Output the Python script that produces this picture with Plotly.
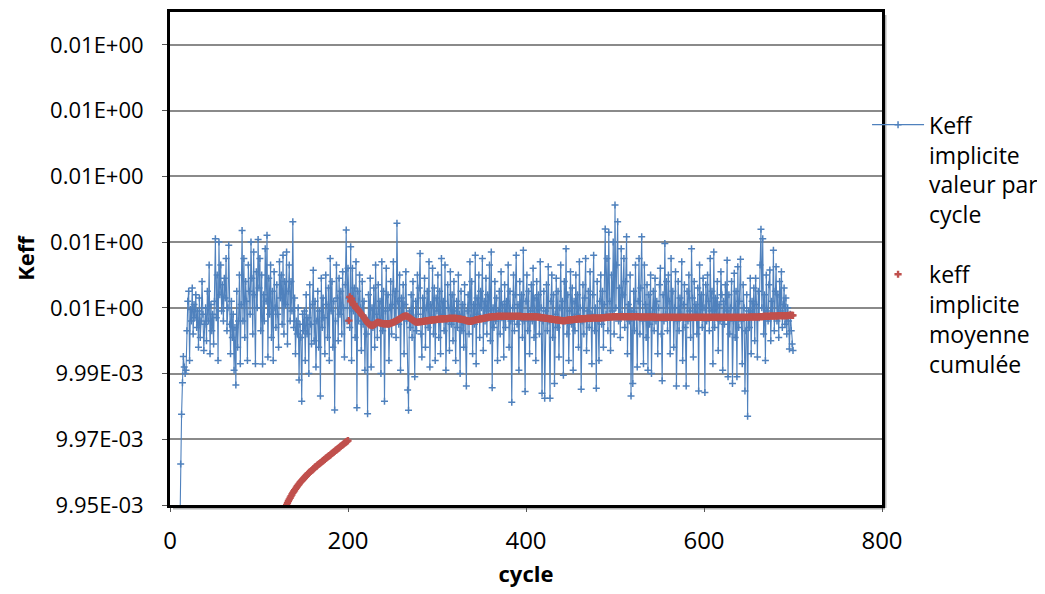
import plotly.graph_objects as go

# ---- data (keff expressed as deviation from 0.01, in units of 1e-7) ----
blue_first_cycle = 11
keff_cycle_dev = [
    -600, -375, -224, -128, -48, -80, -100, -90, 30, 120,
    150, -60, 95, 60, 160, 20, 110, 70, 140, 40,
    90, -20, 130, 10, 60, 180, 80, -30, 50, 100,
    0, 150, 60, 230, -40, 110, 30, 80, -10, 120,
    310, 70, 200, -60, 300, 140, 230, 90, 170, 60,
    190, 130, 250, 30, 100, 290, 50, -40, 120, 10,
    80, -90, 40, -135, 150, -20, 60, 200, -70, 110,
    335, 60, 250, 10, 180, 120, -60, 230, 150, 80,
    300, 190, 20, 270, 140, -70, 210, 100, 308, 160,
    250, 30, 200, -71, 140, 60, 280, 120, 321, -50,
    190, 80, 230, 10, 150, -60, 210, 100, 40, 170,
    80, -20, 240, 130, 200, 50, 260, 20, 180, 110,
    270, -10, 150, 230, 60, 180, 90, 362, 40, 130,
    -40, 60, 20, 100, -120, 50, 10, -184, 80, 30,
    90, -60, 140, 20, 70, -100, 170, 50, -10, 110,
    214, 0, 120, -80, 60, 150, -20, 90, -168, 190,
    40, 130, 70, -40, 200, 110, 10, 160, -60, 250,
    90, 180, -20, 120, -211, 60, 230, 130, 0, 190,
    80, 150, 20, 210, 100, -50, 170, 337, 60, 220,
    130, 40, 286, -60, 220, 90, 160, 10, 240, -204,
    150, 60, 200, 100, -30, 180, 50, 120, -90, 70,
    20, -222, 140, 60, 190, -80, 100, 40, 160, -20,
    230, 80, 10, 170, 60, 120, -100, 240, 30, 150,
    -184, 90, 220, 50, 140, -60, 100, 180, 20, 110,
    240, 60, 150, 10, 357, 120, 50, 200, -90, 130,
    80, 170, -40, 110, 210, 60, -150, -212, 90, 40,
    140, 10, 180, 70, -110, 120, 30, 200, 80, 160,
    265, 20, -50, 130, 60, 190, -20, 100, 150, 40,
    240, -80, 110, 70, 220, 20, 160, -60, 130, 90,
    200, 10, 150, -40, 250, 80, 120, 30, 230, -90,
    60, 170, 100, -30, 210, 50, 140, 0, 180, 90,
    -60, 120, 40, 200, 80, -100, 150, 30, 110, -20,
    170, 60, -138, 90, 140, 20, 240, 70, 180, -40,
    110, 50, 260, -70, 130, 80, 200, 10, 150, 100,
    250, -30, 120, 60, 190, 20, 140, 90, 230, 0,
    270, -143, 100, 40, 180, 60, 130, -60, 90, 150,
    20, 210, 70, 110, -50, 170, 40, 120, 80, 230,
    -20, 150, 60, -187, 100, 200, 30, 140, 260, 50,
    110, -90, 180, 70, 140, 10, 275, 60, -155, 120,
    200, 30, 150, -40, 90, 170, 60, 220, 10, 130,
    -60, 180, 80, 140, 20, 240, 100, -160, 60, 150,
    -175, 90, 170, 30, 225, 60, -175, 120, 200, 10,
    140, -130, 80, 190, 40, 150, -50, 100, 230, 70,
    120, -105, 180, 60, 280, 20, 140, -60, 90, 210,
    50, 160, -90, 120, 30, 200, 80, 140, -20, 240,
    100, -148, 60, 170, 20, 130, 250, -30, 90, 150,
    40, 210, 80, -70, 140, 260, 30, 100, -145, 180,
    60, -60, 120, 200, 50, 150, -20, 110, 340, 80,
    250, 30, 330, 120, -30, 200, 90, 300, 20, 413,
    100, 230, 362, 60, 160, 10, 280, 80, 140, 250,
    40, 180, 316, -40, 110, 60, 200, -168, 90, -130,
    150, 30, 230, 80, -80, 120, 250, 20, 160, 316,
    60, -70, 230, 110, 10, 170, -90, 140, 50, 200,
    -100, 80, 150, 30, 190, 60, 120, -40, 100, 170,
    220, 20, -122, 140, 60, 296, 80, 180, 30, 200,
    120, -40, 250, 70, 150, -20, 100, 210, -138, 60,
    180, 30, 130, 80, 240, -60, 110, 170, 40, -138,
    150, 60, 200, 90, 10, 280, 130, -50, 180, 70,
    110, 20, 160, -153, 230, 80, 140, 40, 190, 100,
    -158, 170, 60, 200, 120, 30, 250, 90, 150, -70,
    270, 40, 130, 80, 180, -30, 110, 60, 210, 140,
    -90, 120, 50, 170, 90, 245, -110, 140, 20, 100,
    180, -130, 60, 205, 10, 150, -110, 225, 40, 120,
    248, 60, -70, 170, 100, -153, 30, 140, -230, 90,
    40, 190, -40, 120, 80, 160, 0, 190, 110, -50,
    150, 70, 230, 339, 100, 310, 20, 140, -60, 200,
    90, 60, 170, 215, 0, 120, 80, 275, 30, 150,
    225, 60, 140, 10, 180, 90, 210, 40, 110, 160,
    50, 130, 20, 100, 60, -25, 80, 30, -10, -30,
]

red_first_cycle_a = 126
keff_mean_dev_a = [
    -528, -522, -517, -511, -506,
    -500, -494, -488, -483, -478, -473, -468, -463, -459, -455,
    -451, -447, -443, -439, -436, -432, -429, -426, -423, -420,
    -417, -414, -411, -408, -405, -403, -400, -398, -395, -393,
    -390, -388, -385, -383, -381, -378, -376, -374, -372, -370,
    -367, -365, -363, -361, -358, -356, -354, -352, -350, -348,
    -345, -343, -341, -339, -337, -334, -332, -330, -328, -326,
    -323, -321, -319, -317, -315, -312, -310, -308, -306, -304,
]

red_first_cycle_b = 201
keff_mean_dev_b = [
    61, 133, 120, 128, 117, 108, 112, 104, 100, 97,
    95, 92, 88, 84, 80, 77, 74, 70, 66, 62,
    58, 54, 51, 49, 48, 47, 46, 47, 48, 50,
    52, 54, 56, 56, 55, 54, 53, 53, 52, 52,
    51, 51, 52, 52, 51, 51, 52, 53, 54, 55,
    56, 57, 58, 60, 62, 63, 65, 66, 68, 70,
    72, 73, 74, 75, 75, 75, 74, 72, 70, 68,
    66, 64, 62, 60, 58, 57, 56, 56, 57, 57,
    58, 58, 58, 59, 59, 59, 60, 60, 61, 61,
    62, 62, 62, 63, 63, 63, 64, 64, 64, 65,
    65, 65, 65, 66, 66, 66, 66, 67, 67, 67,
    67, 67, 68, 68, 68, 68, 68, 68, 68, 68,
    68, 68, 67, 67, 66, 66, 65, 65, 64, 64,
    63, 62, 61, 60, 60, 59, 59, 59, 60, 60,
    61, 62, 63, 64, 64, 65, 65, 66, 66, 67,
    67, 68, 68, 69, 70, 70, 71, 71, 72, 72,
    72, 73, 73, 73, 73, 73, 74, 74, 74, 74,
    74, 74, 74, 74, 74, 74, 74, 74, 74, 74,
    74, 74, 74, 74, 74, 74, 74, 74, 74, 74,
    74, 74, 74, 74, 73, 73, 73, 73, 73, 73,
    73, 73, 73, 73, 73, 73, 73, 73, 73, 73,
    73, 72, 72, 72, 71, 71, 70, 70, 70, 69,
    69, 68, 68, 68, 67, 67, 66, 66, 65, 65,
    65, 64, 64, 63, 63, 63, 62, 62, 62, 61,
    61, 61, 61, 61, 62, 62, 62, 63, 63, 63,
    64, 64, 64, 65, 65, 65, 65, 66, 66, 66,
    66, 66, 67, 67, 67, 67, 67, 68, 68, 68,
    68, 68, 68, 69, 69, 69, 69, 69, 69, 69,
    69, 69, 69, 69, 70, 70, 70, 70, 70, 71,
    71, 71, 71, 72, 72, 72, 72, 73, 73, 73,
    73, 73, 73, 73, 73, 73, 73, 73, 73, 73,
    73, 73, 73, 73, 73, 73, 73, 73, 73, 73,
    73, 73, 73, 73, 73, 73, 72, 72, 72, 72,
    72, 72, 72, 72, 72, 72, 72, 72, 72, 72,
    72, 72, 72, 72, 72, 71, 71, 71, 71, 71,
    71, 71, 71, 71, 71, 71, 71, 71, 71, 71,
    71, 71, 71, 71, 71, 71, 71, 71, 71, 71,
    71, 71, 71, 71, 71, 71, 71, 71, 71, 71,
    71, 71, 71, 71, 71, 71, 71, 71, 71, 71,
    71, 71, 71, 71, 71, 71, 71, 71, 71, 71,
    71, 71, 71, 71, 71, 71, 71, 71, 71, 71,
    71, 71, 71, 71, 71, 71, 71, 71, 71, 71,
    71, 71, 71, 71, 71, 71, 71, 71, 71, 71,
    71, 71, 71, 71, 71, 71, 71, 71, 71, 71,
    71, 71, 71, 71, 71, 71, 71, 71, 71, 71,
    72, 72, 72, 72, 72, 72, 72, 72, 72, 72,
    72, 73, 73, 73, 73, 73, 74, 74, 74, 74,
    74, 74, 74, 75, 75, 75, 75, 75, 75, 75,
    75, 75, 76, 76, 76, 76, 76, 76, 76, 76,
    76, 76, 76, 76, 77, 77, 77, 77, 77, 77,
]

DEV_UNIT = 1e-7
BASE = 0.01

x_ticks = [0, 200, 400, 600, 800]
y_ticks = [0.00995, 0.00997, 0.00999, 0.01001, 0.01003, 0.01005, 0.01007, 0.01009]
y_tick_labels = ["9.95E-03", "9.97E-03", "9.99E-03", "0.01E+00",
                 "0.01E+00", "0.01E+00", "0.01E+00", "0.01E+00"]

series_names = ["Keff<br>implicite<br>valeur par<br>cycle",
                "keff<br>implicite<br>moyenne<br>cumulée"]

# ---- build series ----
blue_x = list(range(blue_first_cycle, blue_first_cycle + len(keff_cycle_dev)))
blue_y = [BASE + d * DEV_UNIT for d in keff_cycle_dev]
red_x = (list(range(red_first_cycle_a, red_first_cycle_a + len(keff_mean_dev_a)))
         + list(range(red_first_cycle_b, red_first_cycle_b + len(keff_mean_dev_b))))
red_y = [BASE + d * DEV_UNIT for d in keff_mean_dev_a + keff_mean_dev_b]

BLUE = "#4F81BD"
RED = "#C0504D"
FONT = "'Open Sans', 'Noto Sans', sans-serif"

fig = go.Figure()
fig.add_trace(go.Scatter(
    x=blue_x, y=blue_y, mode="lines+markers", name=series_names[0],
    legendgroup="a",
    line=dict(color=BLUE, width=1.1),
    marker=dict(symbol="cross-thin", size=5, color=BLUE, line=dict(color=BLUE, width=1.5)),
))
fig.add_trace(go.Scatter(
    x=red_x, y=red_y, mode="markers", name=series_names[1],
    legendgroup="b",
    marker=dict(symbol="cross", size=6, color=RED),
))

# the page body adds an 8px offset; the figure is sized to fill the rest
W, H = 1037, 586
L, T = 162, 4
PW, PH = 712, 493
R, B = W - L - PW, H - T - PH

fig.update_layout(
    width=W, height=H,
    margin=dict(l=L, r=R, t=T, b=B, autoexpand=False),
    paper_bgcolor="white", plot_bgcolor="white",
    font=dict(family=FONT, size=22, color="black"),
    showlegend=True,
    legend=dict(x=0.979, y=0.815, xanchor="left", yanchor="top",
                font=dict(family=FONT, size=23, color="black"),
                valign="top", tracegroupgap=27, itemwidth=52,
                bgcolor="rgba(0,0,0,0)"),
    shapes=[
        dict(type="line", xref="paper", yref="paper",
             x0=1 + 3 / PW, x1=1 + 3 / PW, y0=-3 / PH, y1=1 - 3 / PH,
             line=dict(color="rgba(0,0,0,0.3)", width=3), layer="below"),
        dict(type="line", xref="paper", yref="paper",
             x0=3 / PW, x1=1 + 3 / PW, y0=-3 / PH, y1=-3 / PH,
             line=dict(color="rgba(0,0,0,0.3)", width=3), layer="below"),
    ],
)
fig.update_xaxes(
    range=[0, 800], tickvals=x_ticks, showgrid=False, zeroline=False,
    showline=True, linecolor="black", linewidth=3, mirror=True,
    ticks="outside", ticklen=4, tickcolor="#555", ticklabelstandoff=8,
    tickfont=dict(family=FONT, size=24, color="black"),
    title=dict(text="<b>cycle</b>", font=dict(family=FONT, size=22, color="black"), standoff=12),
)
fig.update_yaxes(
    range=[0.00995, 0.0101], tickvals=y_ticks, ticktext=y_tick_labels,
    showgrid=True, gridcolor="#8a8a8a", gridwidth=1.5, zeroline=False,
    showline=True, linecolor="black", linewidth=3, mirror=True,
    ticks="outside", ticklen=5, tickcolor="#555", ticklabelstandoff=14,
    tickfont=dict(family=FONT, size=22, color="black"),
    title=dict(text="<b>Keff</b>", font=dict(family=FONT, size=22, color="black"), standoff=10),
)

fig.write_html("out.html")
